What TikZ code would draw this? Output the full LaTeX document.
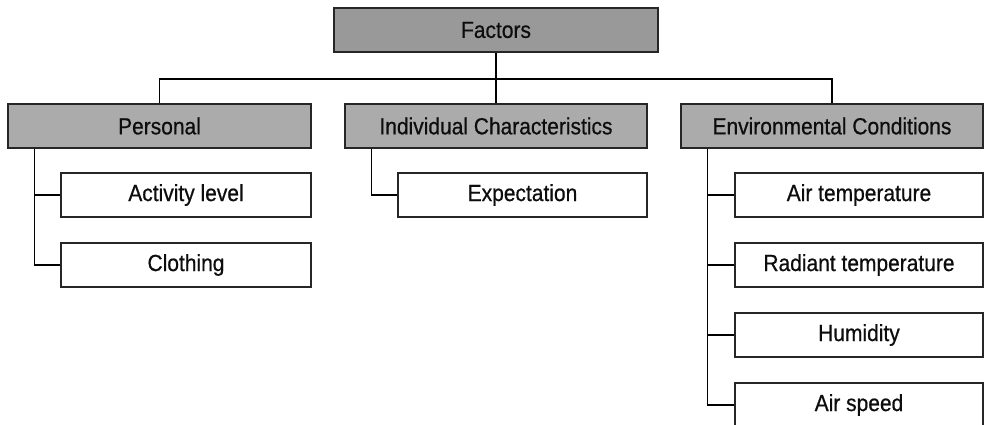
\documentclass[tikz,border=0pt]{standalone}
\usepackage{fontspec}
\setmainfont{Liberation Sans}[FakeStretch=0.9,FakeBold=0.6]
\begin{document}
\begin{tikzpicture}[x=1pt,y=1pt,
  box/.style={draw=black!85, line width=1.5pt, minimum height=44pt, inner sep=0pt,
    font=\fontsize{23.3}{26}\selectfont, text=black!95},
  topbox/.style={box, fill=black!40},
  catbox/.style={box, fill=black!33},
  leafbox/.style={box, fill=white},
  link/.style={draw=black, line width=1.5pt}]
\useasboundingbox (0,0) rectangle (984,-424);
\node[topbox, minimum width=324pt] (F) at (496,-30) {Factors};
\node[catbox, minimum width=303pt] (P) at (159.5,-126) {Personal};
\node[catbox, minimum width=302pt] (I) at (496,-126) {Individual Characteristics};
\node[catbox, minimum width=302pt] (E) at (832,-126) {Environmental Conditions};
\node[leafbox, minimum width=250pt] (A) at (186,-195) {Activity level};
\node[leafbox, minimum width=250pt] (C) at (186,-265) {Clothing};
\node[leafbox, minimum width=249pt] (X) at (522.5,-195) {Expectation};
\node[leafbox, minimum width=248pt] (E1) at (859,-195) {Air temperature};
\node[leafbox, minimum width=248pt] (E2) at (859,-265) {Radiant temperature};
\node[leafbox, minimum width=248pt] (E3) at (859,-335) {Humidity};
\node[leafbox, minimum width=248pt] (E4) at (859,-405) {Air speed};
\coordinate (bus) at (496,-79);
\path[link] (F.south) -- (I.north);
\path[link] (P.north) |- (bus) -| (E.north);
\path[link] ([xshift=27pt]P.south west) |- (A.west);
\path[link] ([xshift=27pt]P.south west) |- (C.west);
\path[link] ([xshift=27pt]I.south west) |- (X.west);
\path[link] ([xshift=27pt]E.south west) |- (E1.west);
\path[link] ([xshift=27pt]E.south west) |- (E2.west);
\path[link] ([xshift=27pt]E.south west) |- (E3.west);
\path[link] ([xshift=27pt]E.south west) |- (E4.west);
\end{tikzpicture}
\end{document}
